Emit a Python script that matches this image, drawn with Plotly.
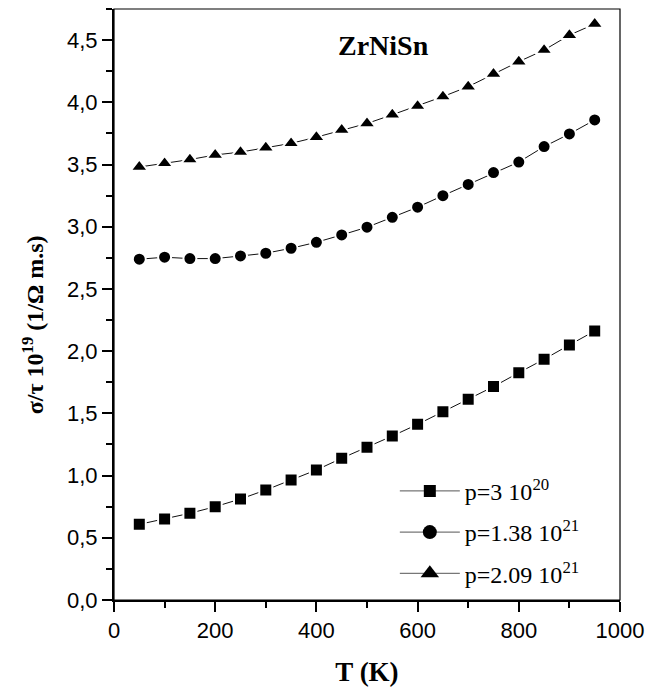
import plotly.graph_objects as go

T = [50, 100, 150, 200, 250, 300, 350, 400, 450, 500, 550, 600, 650, 700, 750, 800, 850, 900, 950]
p1_vals = [0.608, 0.651, 0.697, 0.750, 0.812, 0.884, 0.965, 1.045, 1.139, 1.227, 1.318, 1.412,
           1.514, 1.613, 1.715, 1.827, 1.935, 2.050, 2.162]
p2_vals = [2.739, 2.755, 2.744, 2.744, 2.765, 2.787, 2.827, 2.875, 2.934, 2.996, 3.076, 3.157,
           3.250, 3.340, 3.435, 3.520, 3.644, 3.746, 3.858]
p3_vals = [3.480, 3.510, 3.540, 3.577, 3.600, 3.635, 3.670, 3.720, 3.778, 3.830, 3.900, 3.970,
           4.046, 4.126, 4.228, 4.327, 4.420, 4.540, 4.630]
names = ["p=3 10<sup>20</sup>", "p=1.38 10<sup>21</sup>", "p=2.09 10<sup>21</sup>"]
symbols = ["square", "circle", "triangle-up"]
sizes = [13, 13, 15]
legend_sizes = [12, 14, 17]
series = [p1_vals, p2_vals, p3_vals]

SERIF = "Liberation Serif, Times New Roman, serif"

fig = go.Figure()
for vals, sym, sz in zip(series, symbols, sizes):
    fig.add_trace(go.Scatter(
        x=T, y=vals, mode="lines+markers", showlegend=False,
        line=dict(color="#111", width=1),
        marker=dict(symbol=sym, size=sz, color="black", line=dict(color="white", width=2)),
    ))
for i, (name, sym, sz) in enumerate(zip(names, symbols, legend_sizes)):
    fig.add_trace(go.Scatter(
        x=[None], y=[None], mode="lines+markers", name=name, legendgroup=str(i),
        line=dict(color="#555", width=1),
        marker=dict(symbol=sym, size=sz, color="black"),
    ))

fig.add_annotation(x=532, y=4.46, text="<b>ZrNiSn</b>", showarrow=False,
                   font=dict(family=SERIF, size=28, color="black"))

fig.add_annotation(xref="paper", yref="paper", x=-0.16, y=0.465, xanchor="center", yanchor="middle",
                   text="<b>σ/τ 10<sup>19</sup> (1/Ω m.s)</b>", showarrow=False, textangle=-90,
                   font=dict(family=SERIF, size=24, color="black"))

fig.add_shape(type="rect", xref="paper", yref="paper", x0=0, x1=1, y0=0, y1=1,
              line=dict(color="black", width=1.2), layer="above")

fig.update_layout(
    width=653, height=693,
    margin=dict(l=114, r=28, t=9, b=93),
    paper_bgcolor="white", plot_bgcolor="white",
    separators=",.",
    font=dict(family="Liberation Sans", color="black"),
    legend=dict(x=0.555, y=0.222, xanchor="left", yanchor="top",
                font=dict(family=SERIF, size=24, color="black"),
                bgcolor="rgba(0,0,0,0)", tracegroupgap=7, itemwidth=60),
    xaxis=dict(range=[0, 1000], tickvals=[0, 200, 400, 600, 800, 1000],
               ticks="outside", ticklen=10, tickwidth=1.5, tickcolor="black",
               minor=dict(tickvals=[100, 300, 500, 700, 900], ticks="outside", ticklen=6,
                          tickwidth=1.5, tickcolor="black"),
               showline=True, linewidth=2, linecolor="black", showgrid=False, zeroline=False,
               tickfont=dict(size=22, family="Liberation Sans"),
               title=dict(text="<b>T (K)</b>", font=dict(family=SERIF, size=27),
                          standoff=20)),
    yaxis=dict(range=[0, 4.75], tickvals=[0, 0.5, 1, 1.5, 2, 2.5, 3, 3.5, 4, 4.5],
               tickformat=".1f",
               ticks="outside", ticklen=10, tickwidth=1.5, tickcolor="black",
               minor=dict(tickvals=[0.25, 0.75, 1.25, 1.75, 2.25, 2.75, 3.25, 3.75, 4.25, 4.75],
                          ticks="outside", ticklen=6, tickwidth=1.5, tickcolor="black"),
               showline=True, linewidth=2, linecolor="black", showgrid=False, zeroline=False,
               tickfont=dict(size=22, family="Liberation Sans")),
)

fig.write_html("out.html", config={"displayModeBar": False},
               post_script="document.body.style.margin='0';")
